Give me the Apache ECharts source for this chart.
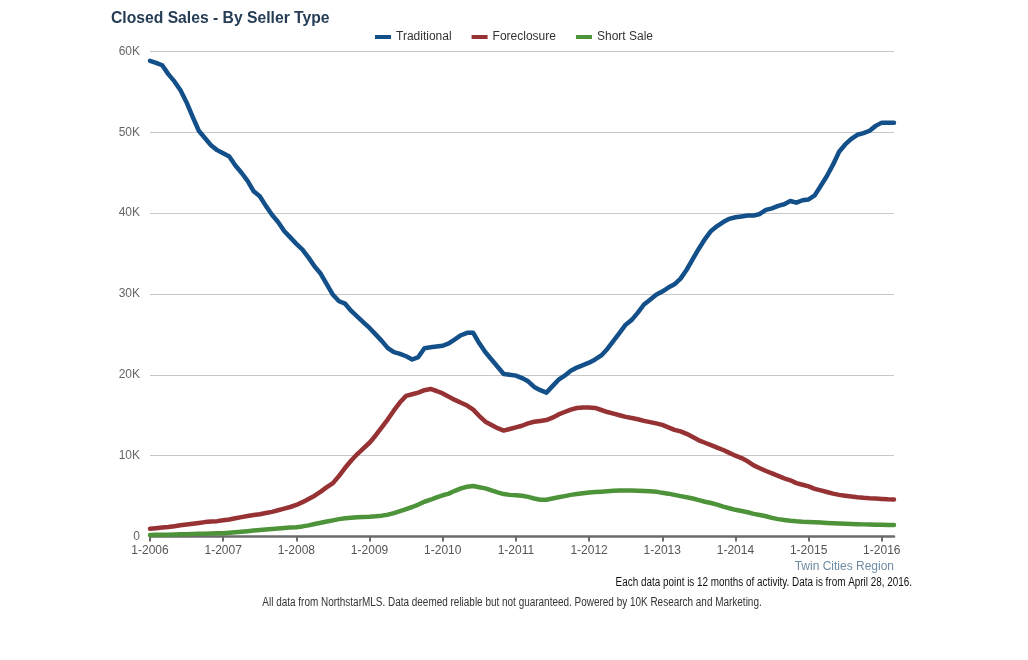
<!DOCTYPE html>
<html>
<head>
<meta charset="utf-8">
<script src="https://cdn.jsdelivr.net/npm/echarts@6/dist/echarts.min.js"></script>
<style>
html,body{margin:0;padding:0;background:#fff;}
#chart{width:1028px;height:660px;}
</style>
</head>
<body>
<div id="chart"></div>
<script>
// Monthly points, 1-2006 through 3-2016 (rolling 12-month totals)
const startYear = 2006;
const monthCount = 123;
const months = [];
for (let i = 0; i < monthCount; i++) {
  months.push(((i % 12) + 1) + '-' + (startYear + Math.floor(i / 12)));
}

const seriesNames = ['Traditional', 'Foreclosure', 'Short Sale'];

const traditional = [
  58850,58600,58300,57200,56300,55200,53700,51900,50200,49300,48400,47800,
  47400,47000,45900,45000,44000,42700,42100,40900,39800,38900,37800,37000,
  36200,35500,34500,33400,32500,31200,29900,29100,28800,27900,27200,26500,
  25800,25000,24200,23300,22800,22600,22300,21900,22200,23300,23400,23500,
  23600,23900,24400,24900,25200,25200,23900,22800,21900,21000,20100,20000,
  19900,19600,19200,18500,18100,17800,18600,19400,19900,20500,20900,21200,
  21500,21900,22400,23200,24200,25200,26200,26800,27700,28700,29300,29900,
  30300,30800,31200,31900,33000,34300,35600,36800,37800,38400,38900,39300,
  39500,39600,39700,39700,39900,40400,40600,40900,41100,41500,41300,41600,
  41700,42200,43400,44600,46000,47600,48500,49200,49700,49900,50200,50800,
  51200,51200,51200
];

const foreclosure = [
  950,1030,1100,1180,1280,1380,1480,1580,1680,1780,1850,1900,
  2000,2100,2250,2400,2530,2650,2750,2900,3050,3250,3450,3650,
  3900,4250,4650,5050,5550,6100,6600,7500,8500,9400,10200,10900,
  11600,12500,13500,14500,15600,16600,17400,17600,17800,18100,18250,18000,
  17700,17300,16900,16550,16200,15700,14900,14200,13800,13400,13100,13300,
  13500,13700,14000,14200,14300,14400,14700,15100,15400,15700,15900,15950,
  15950,15900,15650,15400,15200,15000,14800,14650,14500,14300,14150,14000,
  13800,13500,13200,13000,12700,12300,11900,11600,11300,11000,10700,10350,
  10000,9700,9300,8800,8450,8100,7800,7500,7200,6950,6600,6400,
  6200,5900,5700,5500,5300,5150,5050,4950,4850,4780,4730,4700,
  4650,4600,4580
];

const shortSale = [
  200,210,220,230,250,270,290,310,330,350,370,390,
  410,460,520,590,660,740,800,870,940,1000,1060,1110,
  1150,1250,1380,1550,1700,1850,2000,2150,2250,2320,2380,2420,
  2450,2500,2580,2700,2900,3150,3400,3650,3950,4300,4550,4850,
  5100,5300,5650,5950,6150,6250,6100,5950,5700,5450,5250,5150,
  5100,5050,4900,4700,4550,4550,4700,4850,5000,5150,5250,5350,
  5450,5500,5550,5600,5650,5680,5700,5680,5650,5620,5600,5550,
  5400,5300,5150,5000,4850,4700,4500,4300,4150,3950,3700,3500,
  3300,3150,3000,2800,2650,2500,2300,2150,2050,1950,1880,1830,
  1800,1760,1720,1680,1650,1620,1590,1560,1530,1500,1480,1460,
  1440,1430,1420
];

const yTicks = [0, 10000, 20000, 30000, 40000, 50000, 60000];

const colors = ['#134f88', '#963234', '#4d9339'];

const chart = echarts.init(document.getElementById('chart'), null, {renderer: 'canvas'});

function lineSeries(name, data, color) {
  return {
    name: name,
    type: 'line',
    data: data,
    showSymbol: false,
    symbol: 'none',
    smooth: false,
    lineStyle: {color: color, width: 4.5, cap: 'round', join: 'round'},
    itemStyle: {color: color},
    emphasis: {disabled: true}
  };
}

chart.setOption({
  animation: false,
  backgroundColor: '#ffffff',
  color: colors,
  title: [
    {
      text: 'Closed Sales - By Seller Type',
      left: 106, top: 6,
      textStyle: {fontFamily: 'Liberation Sans, Arial, sans-serif', fontSize: 15.7, fontWeight: 'bold', color: '#263d55'}
    }
  ],
  legend: {
    data: seriesNames,
    top: 26,
    left: 'center',
    itemWidth: 16,
    itemHeight: 4,
    itemGap: 20,
    icon: 'rect',
    textStyle: {fontFamily: 'Liberation Sans, Arial, sans-serif', fontSize: 12, color: '#333'}
  },
  grid: {left: 150, right: 134, top: 51.5, bottom: 123.5, containLabel: false},
  xAxis: {
    type: 'category',
    data: months,
    boundaryGap: false,
    axisLine: {show: true, lineStyle: {color: '#6b6b6b', width: 2.5}},
    axisTick: {show: true, interval: 11, length: 5, lineStyle: {color: '#6b6b6b', width: 2}},
    axisLabel: {
      interval: 11,
      margin: 8,
      fontFamily: 'Liberation Sans, Arial, sans-serif',
      fontSize: 12,
      color: '#555'
    },
    splitLine: {show: false}
  },
  yAxis: {
    type: 'value',
    min: yTicks[0],
    max: yTicks[yTicks.length - 1],
    interval: 10000,
    axisLine: {show: false},
    axisTick: {show: false},
    axisLabel: {
      margin: 10,
      fontFamily: 'Liberation Sans, Arial, sans-serif',
      fontSize: 12,
      color: '#666',
      formatter: function (v) { return v === 0 ? '0' : (v / 1000) + 'K'; }
    },
    splitLine: {show: true, lineStyle: {color: '#c8c8c8', width: 1.2}}
  },
  series: [
    lineSeries(seriesNames[2], shortSale, colors[2]),
    lineSeries(seriesNames[1], foreclosure, colors[1]),
    lineSeries(seriesNames[0], traditional, colors[0])
  ],
  graphic: [
    {
      type: 'text', right: 134, top: 561,
      style: {text: 'Twin Cities Region', fontFamily: 'Liberation Sans, Arial, sans-serif', fontSize: 12, fill: '#6f8ca3'}
    },
    {
      type: 'text', x: 912, y: 577, scaleX: 0.825,
      style: {text: 'Each data point is 12 months of activity. Data is from April 28, 2016.', textAlign: 'right', textVerticalAlign: 'top', fontFamily: 'Liberation Sans, Arial, sans-serif', fontSize: 12, fill: '#111'}
    },
    {
      type: 'text', x: 512, y: 597, scaleX: 0.83,
      style: {text: 'All data from NorthstarMLS. Data deemed reliable but not guaranteed. Powered by 10K Research and Marketing.', textAlign: 'center', textVerticalAlign: 'top', fontFamily: 'Liberation Sans, Arial, sans-serif', fontSize: 12, fill: '#333'}
    }
  ]
});
</script>
</body>
</html>
